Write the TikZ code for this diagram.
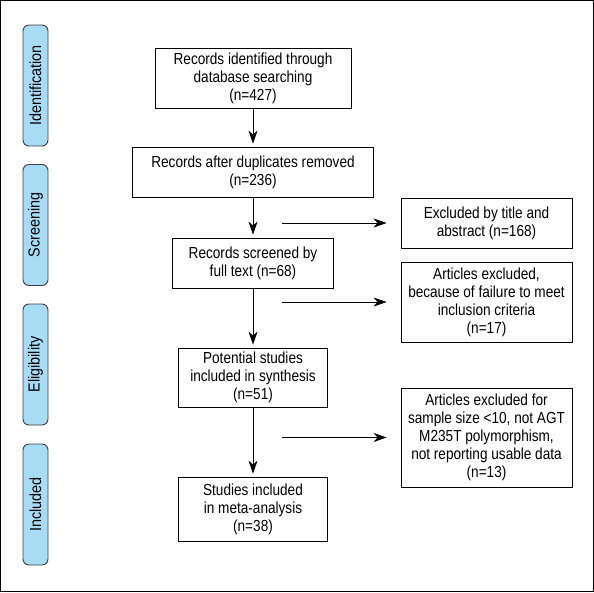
\documentclass[tikz,border=0pt]{standalone}
\usepackage{fontspec}
\setmainfont[FakeStretch=0.85]{Liberation Sans}
\newfontfamily\stagefont[FakeStretch=0.9]{Liberation Sans}
\usetikzlibrary{arrows.meta}
\definecolor{stageblue}{RGB}{168,219,244}

\begin{document}
\begin{tikzpicture}[x=1pt,y=-1pt,font=\fontsize{16}{18}\selectfont]

    \tikzstyle{block} = [rectangle, draw, line width=0.8pt, align=center, inner sep=2pt]
    \tikzstyle{stage} = [rectangle, draw=black!75, fill=stageblue, rounded corners=6pt, line width=0.9pt, minimum width=121pt, minimum height=25pt, inner sep=0pt, rotate=90, font=\stagefont\fontsize{16}{18}\selectfont]
    \tikzstyle{arrow} = [line width=0.8pt,-{Stealth[length=13pt,width=9pt,inset=4pt]}]

    \useasboundingbox (0,0) rectangle (594,592);
    \draw [line width=1.2pt] (0.6,0.6) rectangle (593.4,591.4);

    \node (stIdent) [stage] at (35.5,85.5) {Identification};
    \node (stScreen) [stage] at (35.5,225) {Screening};
    \node (stElig) [stage] at (35.5,364.5) {Eligibility};
    \node (stIncl) [stage] at (35.5,504.5) {Included};

    \node (ident) [block, minimum width=196pt, minimum height=60pt] at (253,78) {Records identified through\\ database searching\\ (n=427)};

    \node (dedup) [block, minimum width=241pt, minimum height=50pt] at (253,172) {Records after duplicates removed\\ (n=236)};

    \node (fulltext) [block, minimum width=161pt, minimum height=50pt] at (253,263) {Records screened by\\ full text (n=68)};

    \node (potential) [block, minimum width=149pt, minimum height=59pt] at (253,377.5) {Potential studies\\ included in synthesis\\ (n=51)};

    \node (metaan) [block, minimum width=149pt, minimum height=64pt] at (253,509) {Studies included\\ in meta-analysis\\ (n=38)};

    \node (exclTitle) [block, minimum width=171pt, minimum height=50pt] at (486.5,223) {Excluded by title and\\ abstract (n=168)};

    \node (exclCrit) [block, minimum width=171pt, minimum height=80pt] at (486.5,302) {Articles excluded,\\ because of failure to meet\\ inclusion criteria\\ (n=17)};

    \node (exclSize) [block, minimum width=171pt, minimum height=99pt] at (486.5,437.5) {Articles excluded for\\ sample size <10, not AGT\\ M235T polymorphism,\\ not reporting usable data\\ (n=13)};

    \coordinate (outTitle) at (282,223);
    \coordinate (outCrit) at (282,302);
    \coordinate (outSize) at (282,437.5);

    \draw [arrow, shorten >=3pt] (ident) -- (dedup);
    \draw [arrow, shorten >=3pt] (dedup) -- (fulltext);
    \draw [arrow, shorten >=3pt] (fulltext) -- (potential);
    \draw [arrow, shorten >=3pt] (potential) -- (metaan);

    \draw [arrow, shorten >=14pt] (outTitle) -- (exclTitle);
    \draw [arrow, shorten >=14pt] (outCrit) -- (exclCrit);
    \draw [arrow, shorten >=14pt] (outSize) -- (exclSize);

\end{tikzpicture}
\end{document}
